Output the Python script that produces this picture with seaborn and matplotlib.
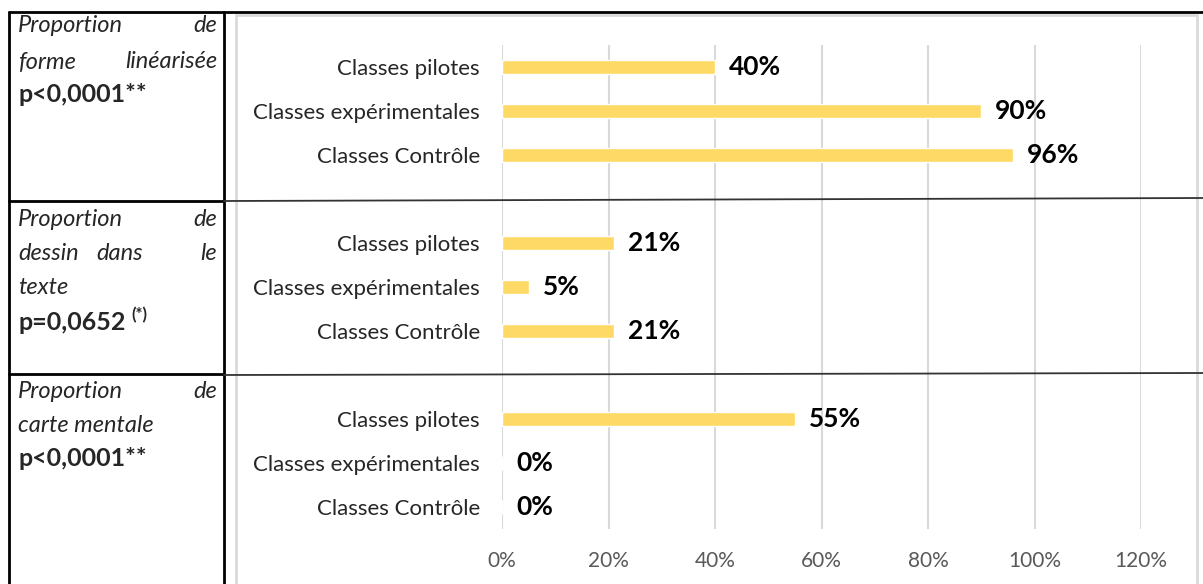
import pandas as pd
import matplotlib.pyplot as plt
from matplotlib.lines import Line2D
from matplotlib.patches import Rectangle
import seaborn as sns

# Données
classes = ["Classes pilotes", "Classes expérimentales", "Classes Contrôle"]
forme_linearisee = [0.40, 0.90, 0.96]
dessin_texte = [0.21, 0.05, 0.21]
carte_mentale = [0.55, 0.00, 0.00]
xticks = [0, 0.2, 0.4, 0.6, 0.8, 1.0, 1.2]

groupes = {"forme": forme_linearisee, "dessin": dessin_texte, "carte": carte_mentale}

rows = []
for g, vals in groupes.items():
    for c, v in zip(classes, vals):
        rows.append({"ligne": g + "|" + c, "classe": c, "valeur": v})
df = pd.DataFrame(rows)

ordre = []
for i, g in enumerate(groupes):
    if i > 0:
        ordre.append("vide" + str(i))
    ordre += [g + "|" + c for c in classes]

sns.set_style("white")
plt.rcParams["font.family"] = ["Lato", "DejaVu Sans"]

W, H = 1203, 584
fig = plt.figure(figsize=(W / 100, H / 100), dpi=100)

def fx(x):
    return x / W

def fy(y):
    return 1 - y / H

# zone du graphique
ax = fig.add_axes([fx(502), fy(529), fx(1141) - fx(502), fy(45) - fy(529)])
sns.barplot(data=df, x="valeur", y="ligne", order=ordre, orient="h",
            color="#FFD966", saturation=1, width=0.34, ax=ax)

for cont in ax.containers:
    ax.bar_label(cont, fmt=lambda v: f"{v:.0%}", padding=10,
                 fontsize=19, fontweight="bold", color="black")

ax.set_xlim(0, 1.2)
ax.set_xticks(xticks)
ax.set_xticklabels([f"{t:.0%}" for t in xticks], fontsize=15, color="#595959")
ax.set_yticks(range(len(ordre)))
ax.set_yticklabels([o.split("|")[1] if "|" in o else "" for o in ordre],
                   fontsize=16, color="#262626")
ax.tick_params(axis="both", length=0)
ax.tick_params(axis="y", pad=16)
ax.tick_params(axis="x", pad=16)
ax.set_xlabel("")
ax.set_ylabel("")
ax.grid(axis="x", color="#D9D9D9", linewidth=1.5)
ax.set_axisbelow(True)
for s in ax.spines.values():
    s.set_visible(False)

# cadre gris du graphique
fig.add_artist(Rectangle((fx(236), fy(600)), fx(1197) - fx(236), fy(15) - fy(600),
                         fill=False, edgecolor="#D9D9D9", linewidth=2))

# lignes du tableau
def trait(x0, y0, x1, y1, lw=2, col="black"):
    fig.add_artist(Line2D([fx(x0), fx(x1)], [fy(y0), fy(y1)], color=col, linewidth=lw))

trait(9, 12, W, 12)
trait(9, 12, 9, H)
trait(224, 12, 224, H)
trait(9, 201, 224, 201)
trait(9, 374, 224, 374)
trait(224, 201, W, 198, lw=1.3, col="#333333")
trait(224, 375, W, 373, lw=1.3, col="#333333")

# textes de la colonne de gauche
fs = 17
fb = 18
def ligne_justifiee(gauche, droite, y):
    fig.text(fx(18), fy(y), gauche, fontsize=fs, style="italic", va="center", ha="left")
    if droite:
        fig.text(fx(217), fy(y), droite, fontsize=fs, style="italic", va="center", ha="right")

ligne_justifiee("Proportion", "de", 26)
ligne_justifiee("forme", "linéarisée", 62)
fig.text(fx(18), fy(95), "p<0,0001**", fontsize=fb, fontweight="bold", va="center")

ligne_justifiee("Proportion", "de", 219)
ligne_justifiee("dessin", "le", 253)
fig.text(fx(120), fy(253), "dans", fontsize=fs, style="italic", va="center", ha="center")
ligne_justifiee("texte", None, 288)
fig.text(fx(18), fy(322), "p=0,0652", fontsize=fb, fontweight="bold", va="center")
fig.text(fx(131), fy(315), "(*)", fontsize=12, fontweight="bold", va="center")

ligne_justifiee("Proportion", "de", 392)
ligne_justifiee("carte mentale", None, 426)
fig.text(fx(18), fy(458), "p<0,0001**", fontsize=fb, fontweight="bold", va="center")

fig.savefig("out.png", dpi=100)
